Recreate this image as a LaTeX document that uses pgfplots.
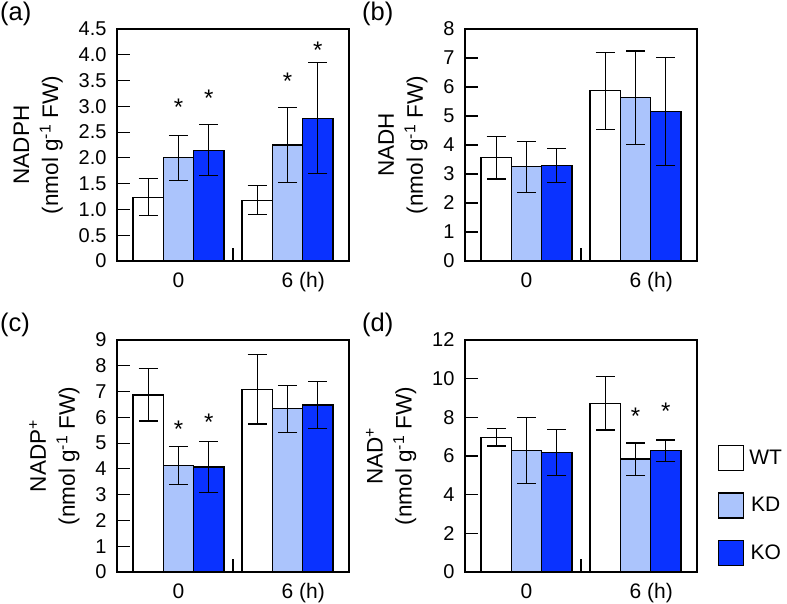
\documentclass[border=0pt]{standalone}
\usepackage{fontspec}
\setmainfont{Liberation Sans}
\usepackage{pgfplots}
\pgfplotsset{compat=1.18}
\definecolor{kd}{RGB}{171,196,252}
\definecolor{ko}{RGB}{10,50,255}
\pgfplotsset{
 panel/.style={
  scale only axis, width=232pt, height=232pt,
  xmin=-1.03, xmax=6.63, ymin=0,
  xtick={2.8}, xticklabels={},
  extra x ticks={1,4.6}, extra x tick labels={0,{6\rlap{ (h)}}},
  extra x tick style={major tick length=0pt},
  major tick length=13pt,
  tick align=inside, xtick pos=bottom, ytick pos=left,
  axis line style={line width=1.2pt},
  tick style={black, line width=1.2pt},
  tick label style={font=\fontsize{20}{22}\selectfont},
  xticklabel style={font=\fontsize{21}{23}\selectfont, yshift=-8pt},
  yticklabel style={xshift=-7pt},
  ylabel style={align=center, font=\fontsize{22.5}{29}\selectfont},
  ylabel shift=9pt,
  /pgf/number format/assume math mode=true,
 },
 bars/.style={ybar, bar width=1, bar shift=0pt, draw=black, line width=1.2pt, forget plot,
   error bars/y dir=both, error bars/y explicit,
   error bars/error mark=|,
   error bars/error bar style={line width=1.2pt, black},
   error bars/error mark options={line width=1.2pt, black, mark size=9.5pt}},
 stars/.style={only marks, mark=text, text mark={*}, text mark as node=true,
   text mark style={font=\fontsize{24}{26}\selectfont, inner sep=0pt, anchor=center}, black, forget plot},
}
\begin{document}
\begin{tikzpicture}
% (a)
\begin{axis}[panel, at={(117pt,-261pt)}, anchor=south west, ymax=4.5,
  ytick={0,0.5,1,1.5,2,2.5,3,3.5,4,4.5},
  yticklabels={0,0.5,1.0,1.5,2.0,2.5,3.0,3.5,4.0,4.5},
  ylabel={NADPH\\(nmol g\textsuperscript{-1} FW)}]
\addplot[bars, fill=white] coordinates {(0,1.235) +- (0,0.36) (3.6,1.18) +- (0,0.28)};
\addplot[bars, fill=kd] coordinates {(1,2.00) +- (0,0.44) (4.6,2.25) +- (0,0.73)};
\addplot[bars, fill=ko] coordinates {(2,2.15) +- (0,0.49) (5.6,2.77) +- (0,1.08)};
\addplot[stars] coordinates {(1,2.99) (2,3.15) (4.6,3.48) (5.6,4.08)};
\end{axis}
% (b)
\begin{axis}[panel, at={(465pt,-261pt)}, anchor=south west, ymax=8,
  ytick={0,1,2,3,4,5,6,7,8},
  yticklabels={0,1,2,3,4,5,6,7,8},
  ylabel={NADH\\(nmol g\textsuperscript{-1} FW)}]
\addplot[bars, fill=white] coordinates {(0,3.56) +- (0,0.73) (3.6,5.87) +- (0,1.33)};
\addplot[bars, fill=kd] coordinates {(1,3.25) +- (0,0.88) (4.6,5.63) +- (0,1.61)};
\addplot[bars, fill=ko] coordinates {(2,3.29) +- (0,0.59) (5.6,5.15) +- (0,1.86)};
\end{axis}
% (c)
\begin{axis}[panel, at={(117pt,-572pt)}, anchor=south west, ymax=9,
  ytick={0,1,2,3,4,5,6,7,8,9},
  yticklabels={0,1,2,3,4,5,6,7,8,9},
  ylabel={NADP\textsuperscript{+}\\(nmol g\textsuperscript{-1} FW)}]
\addplot[bars, fill=white] coordinates {(0,6.87) +- (0,1.01) (3.6,7.09) +- (0,1.35)};
\addplot[bars, fill=kd] coordinates {(1,4.13) +- (0,0.74) (4.6,6.33) +- (0,0.91)};
\addplot[bars, fill=ko] coordinates {(2,4.07) +- (0,1.00) (5.6,6.48) +- (0,0.90)};
\addplot[stars] coordinates {(1,5.55) (2,5.80)};
\end{axis}
% (d)
\begin{axis}[panel, at={(465pt,-572pt)}, anchor=south west, ymax=12,
  ytick={0,2,4,6,8,10,12},
  yticklabels={0,2,4,6,8,10,12},
  ylabel={NAD\textsuperscript{+}\\(nmol g\textsuperscript{-1} FW)},
  legend style={at={(1.0905,0.2866)}, anchor=west, draw=none, fill=none, inner sep=0pt,
    row sep=21pt, font=\fontsize{21}{24}\selectfont,
    /tikz/every odd column/.append style={column sep=3pt}}]
\addplot[bars, fill=white] coordinates {(0,6.97) +- (0,0.45) (3.6,8.73) +- (0,1.39)};
\addplot[bars, fill=kd] coordinates {(1,6.28) +- (0,1.70) (4.6,5.84) +- (0,0.83)};
\addplot[bars, fill=ko] coordinates {(2,6.18) +- (0,1.19) (5.6,6.27) +- (0,0.56)};
\addplot[stars] coordinates {(4.6,8.08) (5.6,8.29)};
\addlegendimage{legend image code/.code={\draw[fill=white,draw=black,line width=1.2pt] (0pt,-12.5pt) rectangle (25pt,12.5pt);}}
\addlegendentry{WT}
\addlegendimage{legend image code/.code={\draw[fill=kd,draw=black,line width=1.2pt] (0pt,-12.5pt) rectangle (25pt,12.5pt);}}
\addlegendentry{KD}
\addlegendimage{legend image code/.code={\draw[fill=ko,draw=black,line width=1.2pt] (0pt,-12.5pt) rectangle (25pt,12.5pt);}}
\addlegendentry{KO}
\end{axis}
\node[anchor=west, inner sep=0pt, font=\fontsize{25.5}{28}\selectfont] at (0pt,-13.5pt) {(a)};
\node[anchor=west, inner sep=0pt, font=\fontsize{25.5}{28}\selectfont] at (362pt,-13.5pt) {(b)};
\node[anchor=west, inner sep=0pt, font=\fontsize{25.5}{28}\selectfont] at (0pt,-325pt) {(c)};
\node[anchor=west, inner sep=0pt, font=\fontsize{25.5}{28}\selectfont] at (362pt,-325pt) {(d)};
\pgfresetboundingbox
\path (0pt,0pt) rectangle (787pt,-604pt);
\end{tikzpicture}
\end{document}
